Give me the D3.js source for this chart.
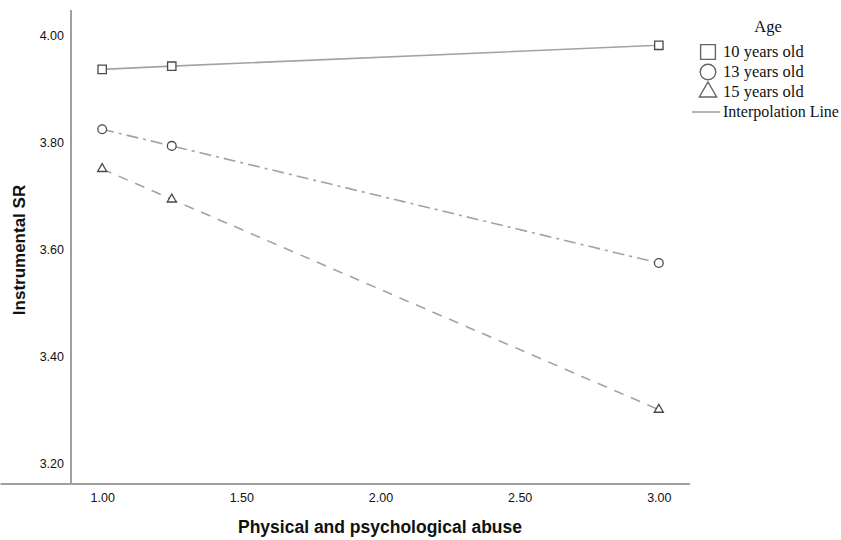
<!DOCTYPE html>
<html>
<head>
<meta charset="utf-8">
<script src="https://cdn.jsdelivr.net/npm/d3@7"></script>
<style>
  html, body { margin: 0; padding: 0; background: #fff; }
  svg { display: block; }
</style>
</head>
<body>
<svg id="vis" width="841" height="540"></svg>
<script>
const width = 841;
const height = 540;

// data
const xValues = [1.0, 1.25, 3.0];
const series10 = [3.936, 3.942, 3.981];
const series13 = [3.824, 3.793, 3.574];
const series15 = [3.750, 3.693, 3.300];
const seriesNames = ['10 years old', '13 years old', '15 years old'];
const xTicks = [1.0, 1.5, 2.0, 2.5, 3.0];
const yTicks = [3.2, 3.4, 3.6, 3.8, 4.0];

const plot = {left: 71, right: 690, top: 10, bottom: 484};
const svg = d3.select('#vis');

const xScale = d3.scaleLinear().domain([0.888, 3.112]).range([plot.left, plot.right]);
const yScale = d3.scaleLinear().domain([3.161, 4.047]).range([plot.bottom, plot.top]);

const axisColor = '#a0a0a0';
const lineColor = '#a3a3a3';
const markColor = '#4a4a4a';

// axes
const xAxis = svg.append('g').attr('transform', `translate(0,${plot.bottom})`)
  .call(d3.axisBottom(xScale).tickValues(xTicks).tickFormat(d3.format('.2f')).tickSize(0).tickPadding(9));
const yAxis = svg.append('g').attr('transform', `translate(${plot.left},0)`)
  .call(d3.axisLeft(yScale).tickValues(yTicks).tickFormat(d3.format('.2f')).tickSize(0).tickPadding(7));
[xAxis, yAxis].forEach(a => {
  a.select('.domain').attr('stroke', axisColor).attr('stroke-width', 2);
  a.selectAll('text').attr('font-family', 'Liberation Sans, Arial, sans-serif').attr('font-size', 12.5).attr('fill', '#111');
});
xAxis.select('.domain').attr('d', `M0.5,0H${plot.right}`);
yAxis.select('.domain').attr('d', `M0,${plot.top}V${plot.bottom}`);

// axis titles
svg.append('text')
  .attr('x', 380).attr('y', 533)
  .attr('text-anchor', 'middle')
  .attr('font-family', 'Liberation Sans, Arial, sans-serif').attr('font-size', 17.5).attr('font-weight', 'bold')
  .attr('fill', '#111')
  .text('Physical and psychological abuse');
svg.append('text')
  .attr('transform', `translate(25,250) rotate(-90)`)
  .attr('text-anchor', 'middle')
  .attr('font-family', 'Liberation Sans, Arial, sans-serif').attr('font-size', 17).attr('font-weight', 'bold')
  .attr('fill', '#111')
  .text('Instrumental SR');

const series = [
  {name: seriesNames[0], values: series10, dash: null, shape: d3.symbolSquare},
  {name: seriesNames[1], values: series13, dash: '12,5,3,5', shape: d3.symbolCircle},
  {name: seriesNames[2], values: series15, dash: '10,8', shape: d3.symbolTriangle}
];

const line = d3.line().x(d => xScale(d.x)).y(d => yScale(d.y));

series.forEach(s => {
  const pts = xValues.map((x, i) => ({x, y: s.values[i]}));
  svg.append('path')
    .datum(pts)
    .attr('d', line)
    .attr('fill', 'none')
    .attr('stroke', lineColor)
    .attr('stroke-width', 1.6)
    .attr('stroke-dasharray', s.dash);
  const size = s.shape === d3.symbolTriangle ? 36 : s.shape === d3.symbolCircle ? 60 : 70;
  svg.selectAll(null).data(pts).enter().append('path')
    .attr('transform', d => `translate(${xScale(d.x)},${yScale(d.y)})`)
    .attr('d', d3.symbol().type(s.shape).size(size))
    .attr('fill', '#fff')
    .attr('stroke', markColor)
    .attr('stroke-width', 1.3);
});

// legend
const legend = svg.append('g').attr('font-family', 'Liberation Serif, Times New Roman, serif').attr('fill', '#111');
legend.append('text').attr('x', 768).attr('y', 32).attr('text-anchor', 'middle').attr('font-size', 16.5).text('Age');
series.forEach((s, i) => {
  const y = 52 + i * 20;
  legend.append('path')
    .attr('transform', `translate(708,${y})`)
    .attr('d', d3.symbol().type(s.shape).size(s.shape === d3.symbolTriangle ? 130 : s.shape === d3.symbolCircle ? 190 : 220))
    .attr('fill', '#fff').attr('stroke', '#666').attr('stroke-width', 1.4);
  legend.append('text').attr('x', 723).attr('y', y + 5).attr('font-size', 16.5).text(s.name);
});
legend.append('line').attr('x1', 692).attr('x2', 720).attr('y1', 112).attr('y2', 112)
  .attr('stroke', lineColor).attr('stroke-width', 1.6);
legend.append('text').attr('x', 723).attr('y', 117).attr('font-size', 16).text('Interpolation Line');
</script>
</body>
</html>
